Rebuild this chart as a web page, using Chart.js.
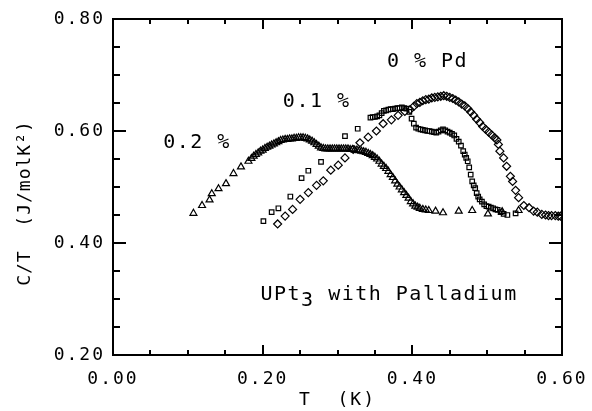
<!DOCTYPE html>
<html lang="en">
<head>
    <meta charset="UTF-8">
    <title>UPt3 with Palladium</title>
    <script src="https://cdn.jsdelivr.net/npm/chart.js"></script>
    <style>
        body {
            margin: 0;
            padding: 0;
            background-color: #ffffff;
        }
        canvas {
            display: block;
        }
    </style>
</head>
<body>
    <canvas id="heatChart" width="592" height="411"></canvas>

    <script>
        // 0.2 % Pd (triangles)
        const t02 = [0.1075, 0.119, 0.129, 0.132, 0.141, 0.151, 0.161, 0.171, 0.181, 0.185, 0.188, 0.191, 0.194, 0.197,
            0.200, 0.203, 0.206, 0.209, 0.212, 0.215, 0.218, 0.221, 0.224, 0.227, 0.230, 0.233, 0.236, 0.239, 0.242,
            0.245, 0.248, 0.251, 0.254, 0.257, 0.260, 0.263, 0.266, 0.269, 0.272, 0.275, 0.278, 0.281, 0.284, 0.287,
            0.290, 0.293, 0.296, 0.299, 0.302, 0.305, 0.308, 0.311, 0.314, 0.317, 0.320, 0.323, 0.326, 0.329, 0.332,
            0.335, 0.338, 0.341, 0.344, 0.347, 0.350, 0.353, 0.356, 0.359, 0.362, 0.365, 0.368, 0.371, 0.374, 0.377,
            0.380, 0.383, 0.386, 0.389, 0.392, 0.395, 0.398, 0.401, 0.404, 0.407, 0.410, 0.414, 0.418, 0.422, 0.431,
            0.441, 0.462, 0.480, 0.501, 0.520, 0.542];
        const c02 = [0.453, 0.467, 0.477, 0.488, 0.497, 0.506, 0.524, 0.536, 0.546, 0.551, 0.555, 0.558, 0.561, 0.564,
            0.566, 0.569, 0.571, 0.573, 0.575, 0.577, 0.579, 0.581, 0.583, 0.584, 0.585, 0.585, 0.586, 0.586, 0.587,
            0.587, 0.588, 0.588, 0.588, 0.587, 0.586, 0.584, 0.582, 0.579, 0.576, 0.573, 0.570, 0.569, 0.568, 0.568,
            0.568, 0.568, 0.568, 0.568, 0.568, 0.568, 0.568, 0.568, 0.568, 0.567, 0.567, 0.566, 0.566, 0.565, 0.564,
            0.563, 0.562, 0.560, 0.558, 0.556, 0.553, 0.550, 0.546, 0.541, 0.537, 0.533, 0.528, 0.522, 0.517, 0.511,
            0.505, 0.500, 0.495, 0.490, 0.485, 0.480, 0.474, 0.470, 0.466, 0.464, 0.462, 0.460, 0.459, 0.458, 0.457,
            0.454, 0.457, 0.458, 0.452, 0.456, 0.458];

        // 0.1 % Pd (squares)
        const t01 = [0.201, 0.212, 0.221, 0.237, 0.252, 0.261, 0.278, 0.310, 0.327, 0.344, 0.347, 0.350, 0.353, 0.356,
            0.359, 0.362, 0.365, 0.368, 0.371, 0.374, 0.377, 0.380, 0.383, 0.386, 0.389, 0.392, 0.396, 0.399, 0.402,
            0.405, 0.408, 0.411, 0.414, 0.417, 0.420, 0.423, 0.426, 0.429, 0.432, 0.435, 0.438, 0.441, 0.444, 0.447,
            0.450, 0.453, 0.456, 0.459, 0.462, 0.465, 0.468, 0.470, 0.472, 0.474, 0.476, 0.478, 0.480, 0.482, 0.484,
            0.486, 0.488, 0.490, 0.493, 0.496, 0.499, 0.502, 0.505, 0.508, 0.511, 0.514, 0.518, 0.522, 0.527, 0.538];
        const c01 = [0.439, 0.455, 0.462, 0.483, 0.516, 0.529, 0.545, 0.591, 0.604, 0.624, 0.625, 0.625, 0.626, 0.628,
            0.632, 0.636, 0.637, 0.638, 0.639, 0.639, 0.640, 0.641, 0.641, 0.642, 0.641, 0.640, 0.634, 0.622, 0.613,
            0.606, 0.604, 0.603, 0.602, 0.601, 0.600, 0.600, 0.599, 0.598, 0.597, 0.599, 0.601, 0.603, 0.601, 0.599,
            0.597, 0.595, 0.592, 0.586, 0.581, 0.574, 0.564, 0.558, 0.552, 0.546, 0.535, 0.522, 0.510, 0.503, 0.498,
            0.489, 0.483, 0.478, 0.474, 0.469, 0.466, 0.465, 0.463, 0.462, 0.460, 0.459, 0.455, 0.452, 0.450, 0.453];

        // 0 % Pd (diamonds)
        const t00 = [0.220, 0.230, 0.240, 0.250, 0.261, 0.272, 0.281, 0.291, 0.301, 0.310, 0.321, 0.330, 0.341, 0.352,
            0.361, 0.372, 0.381, 0.390, 0.397, 0.402, 0.406, 0.410, 0.414, 0.418, 0.422, 0.426, 0.430, 0.434, 0.438,
            0.442, 0.446, 0.450, 0.454, 0.458, 0.462, 0.466, 0.470, 0.474, 0.478, 0.482, 0.486, 0.490, 0.494, 0.498,
            0.502, 0.506, 0.510, 0.513, 0.515, 0.517, 0.522, 0.526, 0.531, 0.534, 0.538, 0.542, 0.549, 0.556, 0.562,
            0.567, 0.573, 0.578, 0.582, 0.586, 0.591, 0.595, 0.598];
        const c00 = [0.434, 0.448, 0.460, 0.478, 0.490, 0.503, 0.511, 0.530, 0.539, 0.552, 0.567, 0.579, 0.589, 0.600,
            0.613, 0.620, 0.628, 0.635, 0.638, 0.644, 0.649, 0.651, 0.654, 0.656, 0.657, 0.659, 0.660, 0.661, 0.662,
            0.663, 0.662, 0.660, 0.658, 0.655, 0.652, 0.648, 0.645, 0.640, 0.634, 0.628, 0.621, 0.615, 0.608, 0.603,
            0.598, 0.593, 0.588, 0.584, 0.576, 0.564, 0.552, 0.537, 0.519, 0.510, 0.494, 0.481, 0.467, 0.463, 0.457,
            0.455, 0.451, 0.450, 0.449, 0.449, 0.449, 0.448, 0.448];

        const xLabels = ['0.00', '0.20', '0.40', '0.60'];
        const yLabels = ['0.20', '0.40', '0.60', '0.80'];
        const minorStep = 0.05;

        const FONT = "'DejaVu Sans Mono', monospace";
        const pts = (xs, ys) => xs.map((x, i) => ({ x: x, y: ys[i] }));

        // inward ticks on all four sides, frame and the in-plot labels
        const framePlugin = {
            id: 'frame',
            beforeUpdate(chart) { chart.ctx.letterSpacing = '2px'; },
            beforeDraw(chart) { chart.ctx.letterSpacing = '2px'; },
            afterDraw(chart) {
                const ctx = chart.ctx;
                const a = chart.chartArea;
                const xs = chart.scales.x;
                const ys = chart.scales.y;
                ctx.save();
                ctx.setLineDash([]);
                ctx.globalAlpha = 1;
                ctx.fillStyle = '#000';
                const nx = Math.round((xs.max - xs.min) / minorStep);
                for (let i = 0; i <= nx; i++) {
                    const v = xs.min + i * minorStep;
                    const px = Math.round(xs.getPixelForValue(v));
                    const len = xLabels.includes(v.toFixed(2)) ? 10 : 5;
                    ctx.fillRect(px - 1, a.bottom - len, 2, len);
                    ctx.fillRect(px - 1, a.top, 2, len);
                }
                const ny = Math.round((ys.max - ys.min) / minorStep);
                for (let i = 0; i <= ny; i++) {
                    const v = ys.min + i * minorStep;
                    const py = Math.round(ys.getPixelForValue(v));
                    const len = yLabels.includes(v.toFixed(2)) ? 13 : 7;
                    ctx.fillRect(a.left, py - 1, len, 2);
                    ctx.fillRect(a.right - len, py - 1, len, 2);
                }
                ctx.strokeStyle = '#000';
                ctx.lineWidth = 2;
                ctx.strokeRect(a.left, a.top, a.right - a.left, a.bottom - a.top);

                ctx.textBaseline = 'middle';
                ctx.textAlign = 'left';
                ctx.letterSpacing = '1.5px';
                ctx.font = '20px ' + FONT;
                const put = (txt, x, y) => ctx.fillText(txt, xs.getPixelForValue(x), ys.getPixelForValue(y));
                put('0 % Pd', 0.366, 0.723);
                put('0.1 %', 0.227, 0.653);
                put('0.2 %', 0.067, 0.579);

                let px = xs.getPixelForValue(0.197);
                const py = ys.getPixelForValue(0.307);
                ctx.fillText('UPt', px, py);
                px += ctx.measureText('UPt').width;
                ctx.fillText('3', px, py + 6);
                px += ctx.measureText('3').width;
                ctx.fillText(' with Palladium', px, py);

                // y axis title
                ctx.translate(25, 203);
                ctx.rotate(-Math.PI / 2);
                ctx.textAlign = 'center';
                ctx.font = '18px ' + FONT;
                ctx.letterSpacing = '1px';
                ctx.fillText('C/T  (J/molK\u00B2)', 0, 0);
                ctx.restore();
            }
        };

        const ctx = document.getElementById('heatChart').getContext('2d');
        new Chart(ctx, {
            type: 'scatter',
            data: {
                datasets: [
                    {
                        label: '0.2 %',
                        data: pts(t02, c02),
                        pointStyle: 'triangle',
                        pointRadius: 4,
                        borderColor: '#000',
                        backgroundColor: 'rgba(255,255,255,0)',
                        borderWidth: 1.2
                    },
                    {
                        label: '0.1 %',
                        data: pts(t01, c01),
                        pointStyle: 'rect',
                        pointRadius: 3.2,
                        borderColor: '#000',
                        backgroundColor: 'rgba(255,255,255,0)',
                        borderWidth: 1.2
                    },
                    {
                        label: '0 % Pd',
                        data: pts(t00, c00),
                        pointStyle: 'rectRot',
                        pointRadius: 4,
                        borderColor: '#000',
                        backgroundColor: 'rgba(255,255,255,0)',
                        borderWidth: 1.2
                    }
                ]
            },
            options: {
                responsive: false,
                animation: false,
                layout: { padding: { left: 0, top: 19, right: 30, bottom: 0 } },
                plugins: {
                    legend: { display: false },
                    tooltip: { enabled: false }
                },
                scales: {
                    x: {
                        type: 'linear',
                        min: 0,
                        max: 0.6,
                        afterFit: s => { s.height = 56; s.paddingLeft = 0; s.paddingRight = 0; },
                        grid: { display: false, drawTicks: false },
                        border: { display: false },
                        ticks: {
                            stepSize: minorStep,
                            padding: 14,
                            color: '#000',
                            font: { family: FONT, size: 18 },
                            maxRotation: 0,
                            autoSkip: false,
                            callback: v => {
                                const s = v.toFixed(2);
                                return xLabels.includes(s) ? s : '';
                            }
                        },
                        title: {
                            display: true,
                            text: 'T  (K)',
                            color: '#000',
                            font: { family: FONT, size: 18 },
                            padding: { top: 0, bottom: 0 }
                        }
                    },
                    y: {
                        type: 'linear',
                        min: 0.2,
                        max: 0.8,
                        afterFit: s => { s.width = 113; s.paddingTop = 0; s.paddingBottom = 0; },
                        grid: { display: false, drawTicks: false },
                        border: { display: false },
                        ticks: {
                            stepSize: minorStep,
                            padding: 8,
                            color: '#000',
                            font: { family: FONT, size: 18 },
                            autoSkip: false,
                            callback: v => {
                                const s = v.toFixed(2);
                                return yLabels.includes(s) ? s : '';
                            }
                        }
                    }
                }
            },
            plugins: [framePlugin]
        });
    </script>
</body>
</html>
